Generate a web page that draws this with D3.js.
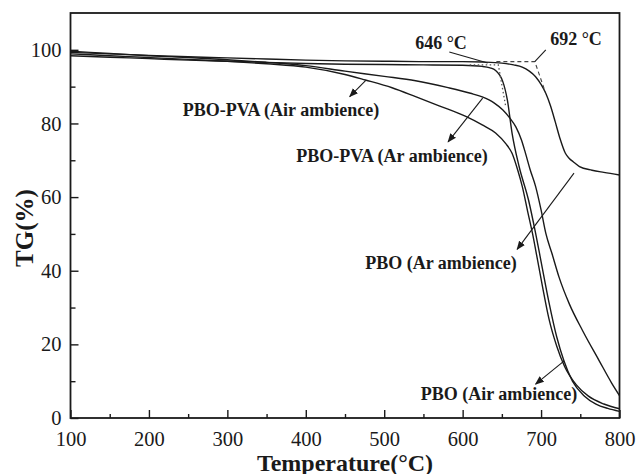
<!DOCTYPE html>
<html>
<head>
<meta charset="utf-8">
<script src="https://cdn.jsdelivr.net/npm/d3@7/dist/d3.min.js"></script>
<style>
  html, body { margin: 0; padding: 0; background: #fff; }
  svg { display: block; }
  text { font-family: "Liberation Serif", "Times New Roman", serif; fill: #1a1a1a; }
</style>
</head>
<body>
<svg id="chart" width="636" height="474"></svg>
<script>
// ---------------- data ----------------
const xTicks = [100, 200, 300, 400, 500, 600, 700, 800];
const xMinorTicks = [150, 250, 350, 450, 550, 650, 750];
const yTicks = [0, 20, 40, 60, 80, 100];
const yMinorTicks = [10, 30, 50, 70, 90];

// [Temperature (°C), TG (%)]
const pboAr = [[100,99.3],[150,98.9],[200,98.5],[250,98.1],[300,97.8],[350,97.5],[400,97.2],[450,97.0],[500,96.9],[550,96.8],[600,96.8],[625,96.7],[650,96.4],[665,95.9],[676,95.3],[685,94.2],[693,92.7],[700,90.6],[706,88.2],[712,84.8],[718,80.5],[724,76.0],[731,71.9],[736,70.5],[741,69.6],[749,68.3],[765,67.3],[780,66.7],[800,66.0]];
const pboAir = [[100,98.4],[150,98.0],[200,97.6],[250,97.2],[300,96.9],[350,96.6],[400,96.3],[450,96.1],[500,96.0],[550,95.9],[600,95.8],[625,95.5],[635,95.1],[642,94.4],[647,93.2],[651,91.5],[657,86.4],[663,77.4],[672,68.3],[684,59.2],[693,50.2],[700,42.5],[710,31.5],[720,22.0],[729,15.6],[740,10.0],[755,6.0],[770,3.8],[785,2.6],[800,1.8]];
const pvaAr = [[100,99.6],[150,99.0],[200,98.4],[250,97.9],[300,97.3],[350,96.6],[400,95.7],[450,94.2],[500,92.8],[540,91.6],[580,89.8],[610,88.2],[625,87.2],[640,85.6],[651,83.7],[660,81.5],[668,79.0],[675,75.5],[680,72.0],[686,67.5],[693,62.9],[700,56.5],[706,50.2],[714,44.6],[723,38.2],[736,31.0],[753,23.7],[774,15.6],[790,9.5],[800,6.1]];
const pvaAir = [[100,98.9],[150,98.4],[200,97.9],[250,97.4],[300,96.9],[350,96.2],[400,95.3],[450,93.3],[476,91.8],[510,89.7],[540,87.3],[570,84.8],[604,81.9],[625,79.6],[642,77.4],[655,74.5],[663,71.9],[670,67.5],[676,62.9],[683,56.0],[689,50.2],[695,43.5],[702,35.5],[710,27.0],[720,19.5],[730,14.0],[745,9.0],[760,6.0],[780,3.8],[800,2.5]];
const seriesList = [pboAr, pboAir, pvaAr, pvaAir];

// onset tangent constructions [x, y]
const onset646Dotted = [[609,95.9],[645.5,95.9],[655,84.5]];
const onset692Dashed = [[643,96.8],[692,96.8],[705.5,88.5]];
const leader646 = [[583,99.4],[632,96.4]];
const leader692 = [[706,100.0],[692,96.8]];

// annotation arrows: from [x,y] to [x,y] (arrowhead at end)
const arrows = [
  [[476.5,91.7],[456,87.3]],
  [[625.5,86.9],[581.5,75.0]],
  [[742,66.5],[669.5,45.8]],
  [[729.5,15.5],[693,9.2]]
];
const labelTexts = ["PBO-PVA (Air ambience)", "PBO-PVA (Ar ambience)", "PBO (Ar ambience)", "PBO (Air ambience)", "646 °C", "692 °C"];
const labelPos = [[281,116],[392,162],[441,269],[499,400],[441,49],[576,45]];

// ---------------- chart ----------------
const svg = d3.select("#chart");
const L = 70.5, R = 619.5, T = 13, B = 418;
const x = d3.scaleLinear().domain([100, 800]).range([L, R]);
const y = d3.scaleLinear().domain([0, 110]).range([B, T]);
const ink = "#1a1a1a";

// axes with inward ticks
const xAxis = d3.axisBottom(x).tickValues(xTicks).tickSize(-8).tickPadding(13).tickFormat(d3.format("d"));
const xMinor = d3.axisBottom(x).tickValues(xMinorTicks).tickSize(-4).tickFormat("");
const yAxis = d3.axisLeft(y).tickValues(yTicks).tickSize(-8).tickPadding(9).tickFormat(d3.format("d"));
const yMinor = d3.axisLeft(y).tickValues(yMinorTicks).tickSize(-5).tickFormat("");

function styleAxis(g) {
  g.select(".domain").remove();
  g.selectAll("line").attr("stroke", ink).attr("stroke-width", 1.4);
  g.selectAll("text").attr("font-family", '"Liberation Serif", serif').attr("font-size", 20.5).attr("fill", ink);
}
svg.append("g").attr("transform", `translate(0,${B})`).call(xAxis).call(styleAxis);
svg.append("g").attr("transform", `translate(0,${B})`).call(xMinor).call(styleAxis);
svg.append("g").attr("transform", `translate(${L},0)`).call(yAxis).call(styleAxis);
svg.append("g").attr("transform", `translate(${L},0)`).call(yMinor).call(styleAxis);

// frame
svg.append("rect").attr("x", L).attr("y", T).attr("width", R - L).attr("height", B - T)
  .attr("fill", "none").attr("stroke", ink).attr("stroke-width", 1.8);

// curves
const line = d3.line().x(d => x(d[0])).y(d => y(d[1])).curve(d3.curveMonotoneX);
svg.append("clipPath").attr("id", "clip").append("rect")
  .attr("x", L).attr("y", T).attr("width", R - L).attr("height", B - T);
svg.append("g").attr("clip-path", "url(#clip)").selectAll("path.series").data(seriesList).join("path")
  .attr("class", "series").attr("d", line).attr("fill", "none").attr("stroke", ink).attr("stroke-width", 1.4);

// onset constructions
const straight = d3.line().x(d => x(d[0])).y(d => y(d[1]));
svg.append("path").attr("d", straight(onset646Dotted)).attr("fill", "none").attr("stroke", "#555")
  .attr("stroke-width", 1.3).attr("stroke-dasharray", "1.5,2.5");
svg.append("path").attr("d", straight(onset692Dashed)).attr("fill", "none").attr("stroke", "#444")
  .attr("stroke-width", 1.1).attr("stroke-dasharray", "4,3");
svg.append("path").attr("d", straight(leader646)).attr("fill", "none").attr("stroke", ink).attr("stroke-width", 1.1);
svg.append("path").attr("d", straight(leader692)).attr("fill", "none").attr("stroke", ink).attr("stroke-width", 1.1);

// arrow marker
svg.append("defs").append("marker").attr("id", "arrowhead")
  .attr("viewBox", "0 0 10 10").attr("refX", 9).attr("refY", 5)
  .attr("markerWidth", 9).attr("markerHeight", 9).attr("markerUnits", "userSpaceOnUse")
  .attr("orient", "auto")
  .append("path").attr("d", "M0,1 L10,5 L0,9 Z").attr("fill", ink);

svg.append("g").selectAll("line").data(arrows).join("line")
  .attr("x1", d => x(d[0][0])).attr("y1", d => y(d[0][1]))
  .attr("x2", d => x(d[1][0])).attr("y2", d => y(d[1][1]))
  .attr("stroke", ink).attr("stroke-width", 1.1).attr("marker-end", "url(#arrowhead)");

// labels
svg.append("g").selectAll("text").data(labelTexts).join("text")
  .attr("x", (d, i) => labelPos[i][0]).attr("y", (d, i) => labelPos[i][1])
  .attr("text-anchor", "middle").attr("font-weight", "bold").attr("font-size", 18)
  .text(d => d);

// axis titles
svg.append("text").attr("x", (L + R) / 2).attr("y", 470.5).attr("text-anchor", "middle")
  .attr("font-weight", "bold").attr("font-size", 24).text("Temperature(°C)");
svg.append("text").attr("transform", "translate(33,228) rotate(-90)").attr("text-anchor", "middle")
  .attr("font-weight", "bold").attr("font-size", 25).text("TG(%)");
</script>
</body>
</html>
